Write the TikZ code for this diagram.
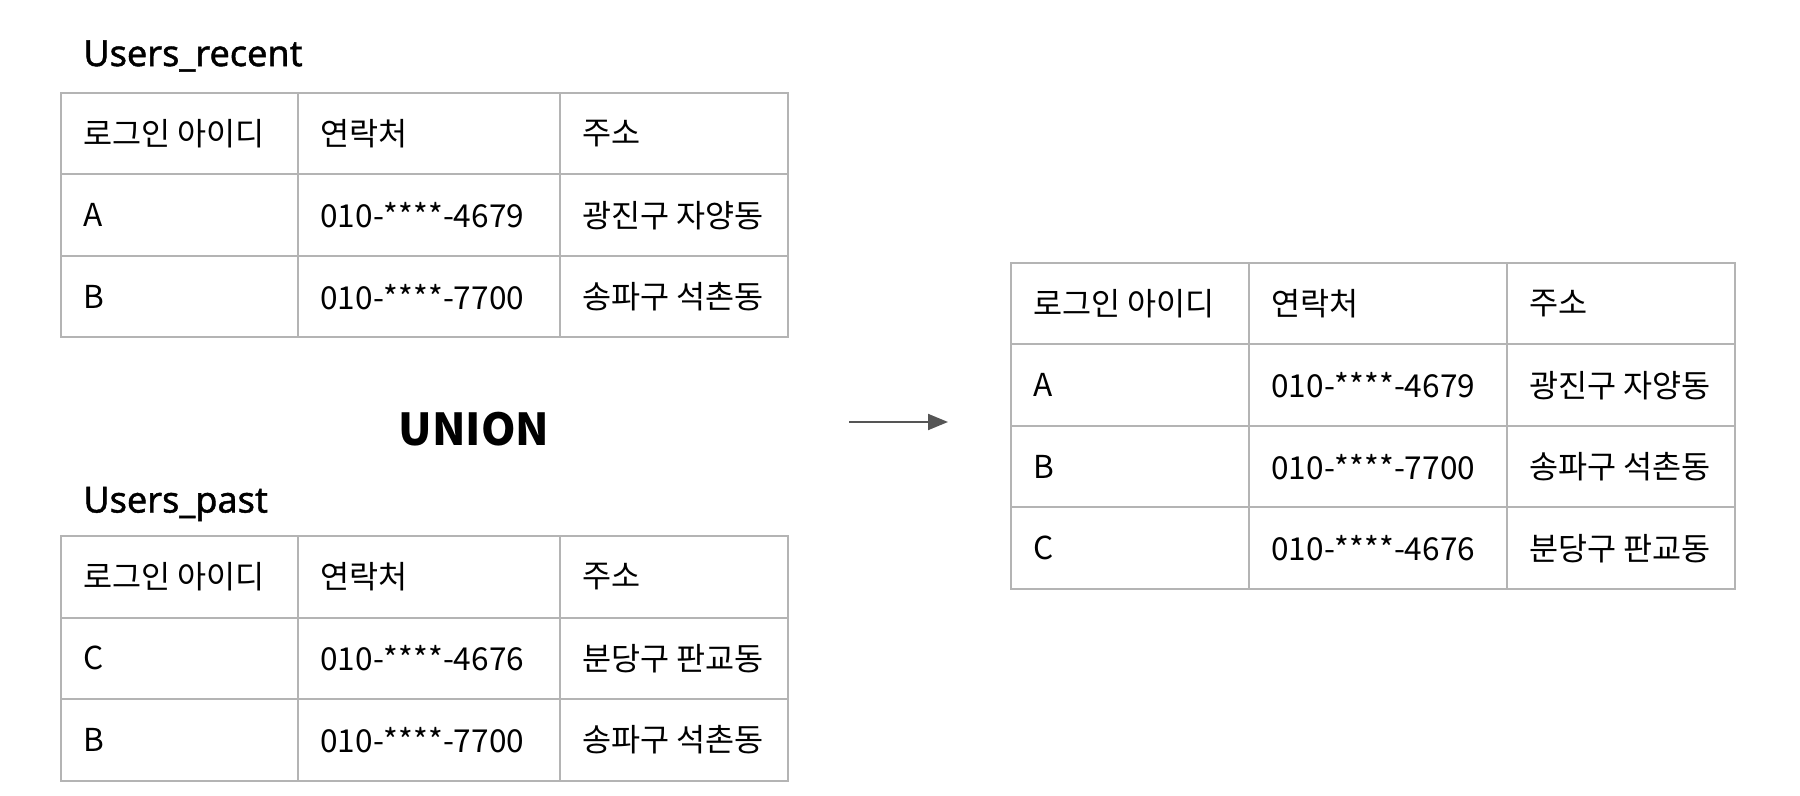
\documentclass[tikz,border=0pt]{standalone}
\usepackage{fontspec}
\setmainfont{Noto Sans}
\newfontfamily\kr{Noto Sans CJK KR}
\newfontfamily\titlefont{Noto Sans}[FakeBold=1.2]
\usetikzlibrary{arrows.meta}
\definecolor{gridgray}{HTML}{B4B4B4}
\definecolor{arrowgray}{HTML}{555555}
\tikzset{
  grid/.style={draw=gridgray, line width=1pt},
  cell/.style={anchor=west, inner sep=0pt, font=\kr\fontsize{15.8}{19}\selectfont},
  tabletitle/.style={anchor=west, inner sep=0pt, font=\titlefont\fontsize{18}{22}\selectfont},
}
\begin{document}
\begin{tikzpicture}[x=0.5pt, y=-0.5pt]
		\useasboundingbox (0,0) rectangle (1800,796);

		% Users_recent
		\node[tabletitle] (recent-title) at (83,56) {Users\_recent};
		\draw[grid] (61,93) rectangle (788,337.5);
		\draw[grid] (298,93) -- (298,337.5) (560,93) -- (560,337.5);
		\draw[grid] (61,174.5) -- (788,174.5) (61,256) -- (788,256);
		\foreach \id/\tel/\addr [count=\r] in {로그인 아이디/연락처/주소, A/010-****-4679/광진구 자양동, B/010-****-7700/송파구 석촌동} {
			\node[cell] (recent-\r-1) at (83,52.25+81.5*\r) {\id};
			\node[cell] (recent-\r-2) at (320,52.25+81.5*\r) {\tel};
			\node[cell] (recent-\r-3) at (582,52.25+81.5*\r) {\addr};
		}

		% UNION
		\node[font=\kr\bfseries\fontsize{22}{26}\selectfont] (union) at (474,429) {UNION};

		% Users_past
		\node[tabletitle] (past-title) at (83,504) {Users\_past};
		\draw[grid] (61,536) rectangle (788,780.5);
		\draw[grid] (298,536) -- (298,780.5) (560,536) -- (560,780.5);
		\draw[grid] (61,617.5) -- (788,617.5) (61,699) -- (788,699);
		\foreach \id/\tel/\addr [count=\r] in {로그인 아이디/연락처/주소, C/010-****-4676/분당구 판교동, B/010-****-7700/송파구 석촌동} {
			\node[cell] (past-\r-1) at (83,495.25+81.5*\r) {\id};
			\node[cell] (past-\r-2) at (320,495.25+81.5*\r) {\tel};
			\node[cell] (past-\r-3) at (582,495.25+81.5*\r) {\addr};
		}

		% Arrow
		\coordinate (from) at (849,422);
		\coordinate (to) at (948,422);
		\draw[arrowgray, line width=1pt, -{Triangle[length=10pt,width=8pt]}] (from) -- (to);

		% Result
		\draw[grid] (1011,263) rectangle (1735,589);
		\draw[grid] (1249,263) -- (1249,589) (1507,263) -- (1507,589);
		\draw[grid] (1011,344.5) -- (1735,344.5) (1011,426) -- (1735,426) (1011,507.5) -- (1735,507.5);
		\foreach \id/\tel/\addr [count=\r] in {로그인 아이디/연락처/주소, A/010-****-4679/광진구 자양동, B/010-****-7700/송파구 석촌동, C/010-****-4676/분당구 판교동} {
			\node[cell] (result-\r-1) at (1033,222.25+81.5*\r) {\id};
			\node[cell] (result-\r-2) at (1271,222.25+81.5*\r) {\tel};
			\node[cell] (result-\r-3) at (1529,222.25+81.5*\r) {\addr};
		}
	\end{tikzpicture}
\end{document}
